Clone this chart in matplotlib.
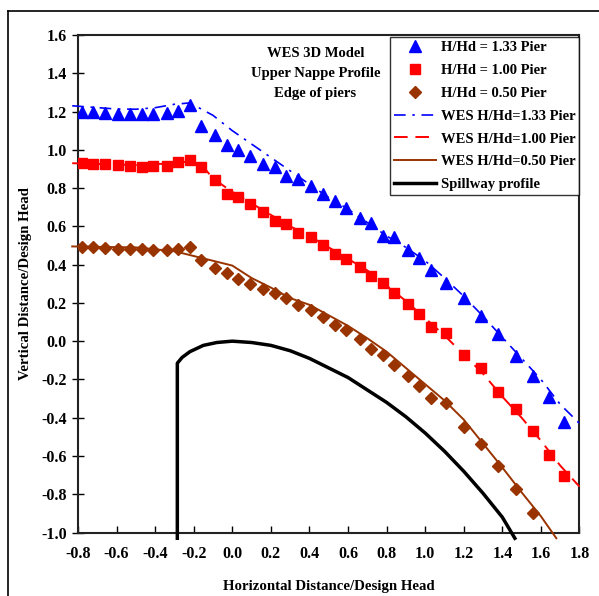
import matplotlib
matplotlib.use("Agg")
import matplotlib.pyplot as plt
from matplotlib.lines import Line2D

# ---- data ----
x_pts = [-0.78, -0.72, -0.66, -0.59, -0.53, -0.47, -0.41, -0.34, -0.28, -0.22,
         -0.16, -0.09, -0.03, 0.03, 0.09, 0.16, 0.22, 0.28, 0.34, 0.41,
         0.47, 0.53, 0.59, 0.66, 0.72, 0.78, 0.84, 0.91, 0.97, 1.03,
         1.11, 1.20, 1.29, 1.38, 1.47, 1.56, 1.64, 1.72]
y_133 = [1.195, 1.195, 1.193, 1.187, 1.185, 1.185, 1.185, 1.191, 1.205, 1.235,
         1.125, 1.079, 1.025, 1.001, 0.967, 0.925, 0.911, 0.865, 0.845, 0.809,
         0.771, 0.731, 0.695, 0.642, 0.618, 0.552, 0.546, 0.474, 0.432, 0.374,
         0.304, 0.226, 0.134, 0.040, -0.077, -0.181, -0.293, -0.425]
y_100 = [0.931, 0.925, 0.925, 0.921, 0.915, 0.911, 0.917, 0.917, 0.935, 0.945,
         0.911, 0.841, 0.769, 0.753, 0.715, 0.673, 0.630, 0.612, 0.566, 0.546,
         0.502, 0.456, 0.430, 0.390, 0.342, 0.302, 0.252, 0.196, 0.142, 0.072,
         0.042, -0.073, -0.139, -0.267, -0.357, -0.467, -0.597, -0.704]
x_050 = x_pts[:36]
y_050 = [0.490, 0.490, 0.486, 0.484, 0.480, 0.480, 0.474, 0.474, 0.484, 0.490,
         0.426, 0.384, 0.354, 0.324, 0.300, 0.274, 0.250, 0.228, 0.190, 0.162,
         0.126, 0.086, 0.056, 0.011, -0.039, -0.073, -0.127, -0.183, -0.233, -0.299,
         -0.323, -0.449, -0.539, -0.652, -0.772, -0.900]

wes133_x = [-0.83, -0.6, -0.5, -0.4, -0.3, -0.22, -0.1, 0.0, 0.1, 0.2, 0.3, 0.4, 0.5,
            0.6, 0.7, 0.8, 0.9, 1.0, 1.1, 1.2, 1.3, 1.4, 1.5, 1.6, 1.7, 1.8]
wes133_y = [1.23, 1.213, 1.212, 1.22, 1.238, 1.245, 1.18, 1.10, 1.03, 0.96, 0.89, 0.82, 0.75,
            0.69, 0.62, 0.55, 0.49, 0.42, 0.33, 0.235, 0.13, 0.02, -0.09, -0.20, -0.33, -0.43]

wes100_x = [-0.83, -0.5, -0.3, -0.22, -0.15, -0.1, 0.0, 0.1, 0.2, 0.3, 0.4, 0.5, 0.6,
            0.7, 0.8, 0.9, 1.0, 1.1, 1.2, 1.3, 1.4, 1.5, 1.6, 1.7, 1.8]
wes100_y = [0.93, 0.92, 0.93, 0.94, 0.91, 0.85, 0.78, 0.72, 0.66, 0.60, 0.55, 0.49, 0.43,
            0.37, 0.29, 0.21, 0.12, 0.03, -0.07, -0.17, -0.29, -0.40, -0.52, -0.65, -0.76]

wes050_x = [-0.83, -0.5, -0.4, -0.3, -0.2, -0.1, 0.0, 0.1, 0.2, 0.3, 0.4, 0.5, 0.6,
            0.7, 0.8, 0.9, 1.0, 1.1, 1.2, 1.3, 1.4, 1.5, 1.6, 1.68]
wes050_y = [0.495, 0.49, 0.48, 0.47, 0.445, 0.42, 0.395, 0.33, 0.28, 0.225, 0.19, 0.135, 0.08,
            0.015, -0.055, -0.14, -0.225, -0.31, -0.41, -0.535, -0.66, -0.79, -0.915, -1.03]

spill_x = [-0.285, -0.285, -0.26, -0.22, -0.15, -0.08, 0.0, 0.1, 0.2, 0.3, 0.4, 0.5, 0.6,
           0.7, 0.8, 0.9, 1.0, 1.1, 1.2, 1.3, 1.4, 1.465]
spill_y = [-1.03, -0.115, -0.085, -0.055, -0.022, -0.007, 0.0, -0.007, -0.022, -0.05, -0.09,
           -0.14, -0.19, -0.255, -0.32, -0.395, -0.48, -0.575, -0.68, -0.795, -0.92, -1.03]

xticks = [-0.8, -0.6, -0.4, -0.2, 0.0, 0.2, 0.4, 0.6, 0.8, 1.0, 1.2, 1.4, 1.6, 1.8]
yticks = [-1.0, -0.8, -0.6, -0.4, -0.2, 0.0, 0.2, 0.4, 0.6, 0.8, 1.0, 1.2, 1.4, 1.6]

BLUE = "#0000FF"
RED = "#FF0000"
BROWN = "#993300"

plt.rcParams['font.family'] = ['Liberation Serif', 'DejaVu Serif']
plt.rcParams['font.weight'] = 'bold'

fig = plt.figure(figsize=(5.99, 5.96), dpi=100)
ax = fig.add_axes([0.1302, 0.1065, 0.8372, 0.8348])

# outer frame
fig.add_artist(Line2D([0.014, 1.0], [0.981, 0.981], transform=fig.transFigure, color='black', lw=1.2))
fig.add_artist(Line2D([0.014, 0.014], [0.981, 0.0], transform=fig.transFigure, color='black', lw=1.2))

ax.plot(x_pts, y_133, linestyle='none', marker='^', color=BLUE, ms=8.5, label='H/Hd = 1.33 Pier', zorder=4)
ax.plot(x_pts, y_100, linestyle='none', marker='s', color=RED, ms=7.5, label='H/Hd = 1.00 Pier', zorder=4)
ax.plot(x_050, y_050, linestyle='none', marker='D', color=BROWN, ms=6, label='H/Hd = 0.50 Pier', zorder=4)
ax.plot(wes133_x, wes133_y, color=BLUE, lw=1.2, linestyle=(0, (7, 4, 1.5, 4)),
        label='WES H/Hd=1.33 Pier', clip_on=False, zorder=3)
ax.plot(wes100_x, wes100_y, color=RED, lw=1.4, linestyle=(0, (7, 4)),
        label='WES H/Hd=1.00 Pier', clip_on=False, zorder=3)
ax.plot(wes050_x, wes050_y, color=BROWN, lw=1.4, linestyle='-',
        label='WES H/Hd=0.50 Pier', clip_on=False, zorder=3)
ax.plot(spill_x, spill_y, color='black', lw=2.5, label='Spillway profile', clip_on=False, zorder=3)

ax.set_xlim(-0.8, 1.8)
ax.set_ylim(-1.0, 1.6)
ax.set_xticks(xticks)
ax.set_yticks(yticks)
ax.set_xticklabels([f"{t:.1f}" for t in xticks])
ax.set_yticklabels([f"{t:.1f}" for t in yticks])
ax.tick_params(axis='x', direction='in', length=5, width=1, pad=10, labelsize=11.5)
ax.tick_params(axis='y', direction='inout', length=8, width=1, pad=4, labelsize=11.5)
for lab in ax.get_xticklabels() + ax.get_yticklabels():
    lab.set_fontweight('bold')
for s in ax.spines.values():
    s.set_linewidth(1.5)
    s.set_color('#222222')

ax.set_xlabel('Horizontal Distance/Design Head', fontsize=10.7, fontweight='bold', labelpad=13)
ax.set_ylabel('Vertical Distance/Design Head', fontsize=10.7, fontweight='bold', labelpad=7)

ax.text(0.4735, 0.976, 'WES 3D Model\nUpper Nappe Profile\nEdge of piers', transform=ax.transAxes,
        ha='center', va='top', fontsize=10.5, fontweight='bold', linespacing=1.7)

leg = ax.legend(loc='upper right', bbox_to_anchor=(1.0, 0.996), borderaxespad=0,
                frameon=True, fancybox=False, edgecolor='black',
                handlelength=2.9, handletextpad=0.3, labelspacing=0.66, borderpad=0.28,
                prop={'weight': 'bold', 'size': 10.5})
leg.get_frame().set_linewidth(1.0)

fig.savefig('out.png', dpi=100)
